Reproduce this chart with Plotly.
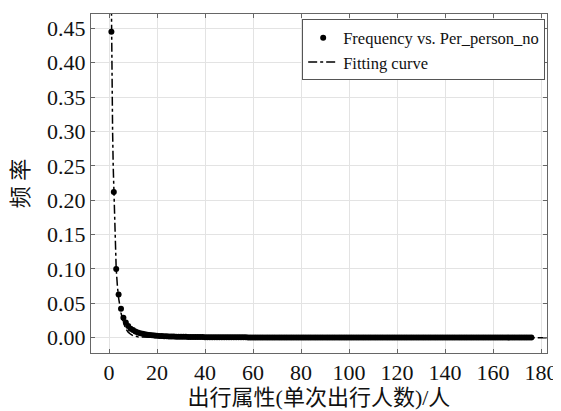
import plotly.graph_objects as go

# Observed frequency by number of persons per trip (x = 1..176)
person_no = list(range(1, 177))
frequency = [
    0.445, 0.212, 0.100, 0.063, 0.042, 0.029, 0.022, 0.017, 0.013, 0.011,
    0.0090, 0.0076, 0.0065, 0.0056, 0.0049, 0.0043, 0.0038, 0.0034, 0.0030, 0.0027,
    0.0025, 0.0023, 0.0021, 0.0019, 0.0018, 0.0017, 0.0016, 0.0015, 0.0014, 0.0013,
    0.0012, 0.0012, 0.0011, 0.0011, 0.0010, 0.0010, 0.0009, 0.0009, 0.0009, 0.0008,
    0.0008, 0.0008, 0.0007, 0.0007, 0.0007, 0.0007, 0.0006, 0.0006, 0.0006, 0.0006,
    0.0006, 0.0005, 0.0005, 0.0005, 0.0005, 0.0005, 0.0005, 0.0004, 0.0004, 0.0004,
    0.0004, 0.0004, 0.0004, 0.0004, 0.0004, 0.0003, 0.0003, 0.0003, 0.0003, 0.0003,
    0.0003, 0.0003, 0.0003, 0.0003, 0.0003, 0.0003, 0.0003, 0.0002, 0.0002, 0.0002,
    0.0002, 0.0002, 0.0002, 0.0002, 0.0002, 0.0002, 0.0002, 0.0002, 0.0002, 0.0002,
    0.0002, 0.0002, 0.0002, 0.0002, 0.0002, 0.0002, 0.0002, 0.0002, 0.0002, 0.0001,
    0.0001, 0.0001, 0.0001, 0.0001, 0.0001, 0.0001, 0.0001, 0.0001, 0.0001, 0.0001,
    0.0001, 0.0001, 0.0001, 0.0001, 0.0001, 0.0001, 0.0001, 0.0001, 0.0001, 0.0001,
    0.0001, 0.0001, 0.0001, 0.0001, 0.0001, 0.0001, 0.0001, 0.0001, 0.0001, 0.0001,
    0.0001, 0.0001, 0.0001, 0.0001, 0.0001, 0.0001, 0.0001, 0.0001, 0.0001, 0.0001,
    0.0001, 0.0001, 0.0001, 0.0001, 0.0001, 0.0001, 0.0001, 0.0001, 0.0001, 0.0001,
    0.0001, 0.0001, 0.0001, 0.0001, 0.0001, 0.0001, 0.0001, 0.0001, 0.0001, 0.0001,
    0.0001, 0.0001, 0.0001, 0.0001, 0.0001, 0.0001, 0.0001, 0.0001, 0.0001, 0.0001,
    0.0001, 0.0001, 0.0001, 0.0001, 0.0001, 0.0001,
]

# Fitting curve samples
fit_x = [0.8, 1.0, 1.25, 1.5, 1.75, 2.0, 2.5, 3.0, 3.5, 4.0, 5.0, 6.0, 7.0, 8.0,
         9.0, 10.0, 12.0, 15.0, 20.0, 30.0, 60.0, 120.0, 183.0]
fit_y = [0.56, 0.445, 0.36, 0.30, 0.25, 0.212, 0.145, 0.100, 0.075, 0.058, 0.036,
         0.022, 0.013, 0.008, 0.005, 0.003, 0.0012, 0.0004, 0.0001, 0.0, 0.0, 0.0, 0.0]

x_ticks = [0, 20, 40, 60, 80, 100, 120, 140, 160, 180]
y_ticks = [0.00, 0.05, 0.10, 0.15, 0.20, 0.25, 0.30, 0.35, 0.40, 0.45]

FONT = "Liberation Serif, Times New Roman, Noto Sans CJK SC, serif"

fig = go.Figure()
fig.add_trace(go.Scatter(
    x=person_no, y=frequency, mode="markers",
    name="Frequency vs. Per_person_no",
    marker=dict(color="black", size=6),
))
fig.add_trace(go.Scatter(
    x=fit_x, y=fit_y, mode="lines", name="Fitting curve",
    line=dict(color="black", width=1.5, dash="dashdot"),
))

axis_common = dict(
    showgrid=True, gridcolor="#e3e3e3", gridwidth=1,
    showline=True, linecolor="#666666", linewidth=1, mirror="ticks",
    ticks="inside", ticklen=4, tickcolor="#666666",
    zeroline=False, automargin=True,
    tickfont=dict(family=FONT, size=22, color="#111111"),
)

# The page body has an 8px margin, so the figure is sized/offset to compensate.
fig.update_layout(
    width=553, height=403,
    margin=dict(l=83, r=14, t=6, b=58, autoexpand=False),
    paper_bgcolor="white", plot_bgcolor="white",
    font=dict(family=FONT, color="#111111"),
    showlegend=True,
    legend=dict(
        x=0.996, y=0.984, xanchor="right", yanchor="top",
        bgcolor="white", bordercolor="#555555", borderwidth=1,
        font=dict(family=FONT, size=16.5, color="#111111"),
        tracegroupgap=0, itemwidth=30,
    ),
    xaxis=dict(
        range=[-7.5, 182.5], tickvals=x_ticks,
        title=dict(text="出行属性(单次出行人数)/人", standoff=2,
                   font=dict(family=FONT, size=22, color="#111111")),
        **axis_common,
    ),
    yaxis=dict(
        range=[-0.0223, 0.471], tickvals=y_ticks, tickformat=".2f",
        title=dict(text="频 率", standoff=14,
                   font=dict(family=FONT, size=22, color="#111111")),
        **axis_common,
    ),
)

fig.write_html("out.html")
